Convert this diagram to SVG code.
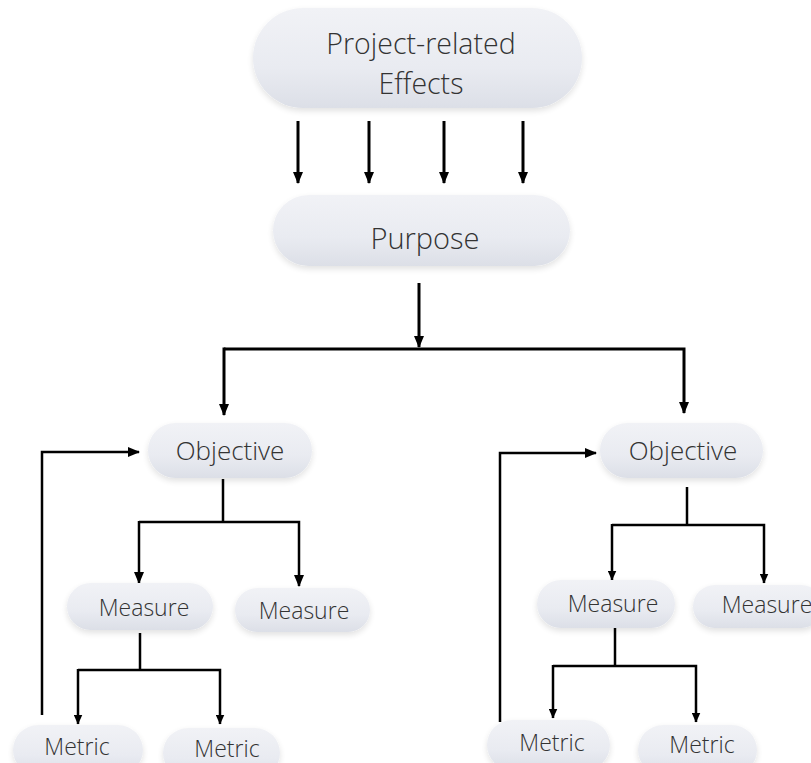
<svg xmlns="http://www.w3.org/2000/svg" width="811" height="763" viewBox="0 0 811 763">
<style>
.pill{fill:url(#pg);filter:url(#sh)}
.t{font-family:"Open Sans","Liberation Sans",sans-serif;font-weight:300;fill:#333;text-anchor:middle}
.c{fill:none;stroke:#000;stroke-linecap:butt;stroke-linejoin:miter}
.w3{stroke-width:3}
.w25{stroke-width:2.5}
</style>
<defs>
<linearGradient id="pg" x1="0" y1="0" x2="0" y2="1">
<stop offset="0" stop-color="#f1f2f6"/>
<stop offset="0.6" stop-color="#e9ebf1"/>
<stop offset="1" stop-color="#dcdfe7"/>
</linearGradient>
<filter id="sh" x="-10%" y="-20%" width="120%" height="150%">
<feGaussianBlur in="SourceAlpha" stdDeviation="3"/>
<feOffset dy="3"/>
<feComponentTransfer><feFuncA type="linear" slope="0.12"/></feComponentTransfer>
<feMerge><feMergeNode/><feMergeNode in="SourceGraphic"/></feMerge>
</filter>
<marker id="ah" viewBox="0 0 12 10" refX="11" refY="5" markerWidth="12" markerHeight="10" markerUnits="userSpaceOnUse" orient="auto">
<path d="M0,0 L12,5 L0,10 Z" fill="#000"/>
</marker>
<marker id="ahs" viewBox="0 0 10 9" refX="9.5" refY="4.5" markerWidth="10" markerHeight="9" markerUnits="userSpaceOnUse" orient="auto">
<path d="M0,0 L10,4.5 L0,9 Z" fill="#000"/>
</marker>
</defs>
<rect width="811" height="763" fill="#fff"/>

<g id="connectors">
<path class="c w3" d="M298,121 V183" marker-end="url(#ah)"/>
<path class="c w3" d="M369,121 V183" marker-end="url(#ah)"/>
<path class="c w3" d="M444,121 V183" marker-end="url(#ah)"/>
<path class="c w3" d="M523,121 V183" marker-end="url(#ah)"/>
<path class="c w3" d="M419,283 V347" marker-end="url(#ah)"/>
<path class="c w3" d="M224,349 H684 V413" marker-end="url(#ah)"/>
<path class="c w3" d="M224,347.5 V415" marker-end="url(#ah)"/>
<!-- left subtree -->
<path class="c w25" d="M42,715 V452 H139" marker-end="url(#ah)"/>
<path class="c w25" d="M223,479 V522"/>
<path class="c w25" d="M139,522 H299 V586" marker-end="url(#ah)"/>
<path class="c w25" d="M139,521 V583" marker-end="url(#ah)"/>
<path class="c w25" d="M140,633 V670"/>
<path class="c w25" d="M78,670 H220 V724" marker-end="url(#ahs)"/>
<path class="c w25" d="M78,669 V724" marker-end="url(#ahs)"/>
<!-- right subtree -->
<path class="c w25" d="M500,722 V453 H596" marker-end="url(#ah)"/>
<path class="c w25" d="M687,487 V525"/>
<path class="c w25" d="M612,525 H764 V583" marker-end="url(#ahs)"/>
<path class="c w25" d="M612,524 V580" marker-end="url(#ahs)"/>
<path class="c w25" d="M615,620 V666"/>
<path class="c w25" d="M553,666 H696 V722" marker-end="url(#ahs)"/>
<path class="c w25" d="M553,665 V718" marker-end="url(#ahs)"/>
</g>

<g id="effects">
<rect class="pill" x="253" y="8" width="329" height="100" rx="50"/>
<text class="t" x="421" y="54" font-size="28.5">Project-related</text>
<text class="t" x="421" y="94" font-size="28.5">Effects</text>
</g>
<g id="purpose">
<rect class="pill" x="273" y="195" width="297" height="71" rx="35.5"/>
<text class="t" x="425" y="249" font-size="29">Purpose</text>
</g>

<g id="objective-left">
<rect class="pill" x="148" y="423" width="164" height="55" rx="27.5"/>
<text class="t" x="230" y="460" font-size="26">Objective</text>
</g>
<g id="measure-left-1">
<rect class="pill" x="67" y="583" width="146" height="47" rx="23.5"/>
<text class="t" x="144" y="616" font-size="23">Measure</text>
</g>
<g id="measure-left-2">
<rect class="pill" x="235" y="588" width="135" height="44" rx="22"/>
<text class="t" x="304" y="619" font-size="23">Measure</text>
</g>
<g id="metric-left-1">
<rect class="pill" x="13" y="725" width="130" height="50" rx="25"/>
<text class="t" x="77" y="755" font-size="23">Metric</text>
</g>
<g id="metric-left-2">
<rect class="pill" x="163" y="728" width="117" height="50" rx="25"/>
<text class="t" x="227" y="757" font-size="23">Metric</text>
</g>

<g id="objective-right">
<rect class="pill" x="600" y="423" width="163" height="55" rx="27.5"/>
<text class="t" x="683" y="460" font-size="26">Objective</text>
</g>
<g id="measure-right-1">
<rect class="pill" x="537" y="580" width="138" height="48" rx="24"/>
<text class="t" x="613" y="612" font-size="23">Measure</text>
</g>
<g id="measure-right-2">
<rect class="pill" x="693" y="585" width="130" height="43" rx="21.5"/>
<text class="t" x="767" y="613" font-size="23">Measure</text>
</g>
<g id="metric-right-1">
<rect class="pill" x="487" y="720" width="123" height="50" rx="25"/>
<text class="t" x="552" y="751" font-size="23">Metric</text>
</g>
<g id="metric-right-2">
<rect class="pill" x="638" y="725" width="119" height="50" rx="25"/>
<text class="t" x="702" y="753" font-size="23">Metric</text>
</g>
</svg>
